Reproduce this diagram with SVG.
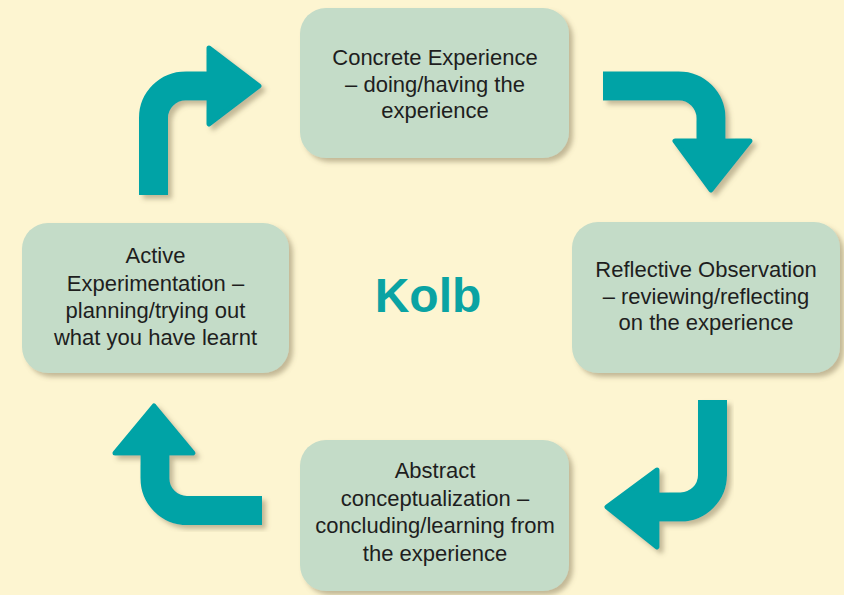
<svg xmlns="http://www.w3.org/2000/svg" width="844" height="595" viewBox="0 0 844 595">
<defs>
<filter id="sh" x="-20%" y="-20%" width="140%" height="140%">
<feDropShadow dx="4" dy="4" stdDeviation="2.5" flood-color="#7a7050" flood-opacity="0.45"/>
</filter>
</defs>
<style>
.box{fill:#C4DCC8;filter:url(#sh)}
.t{font-family:"Liberation Sans",Arial,sans-serif;font-size:22px;fill:#1e1e1e;text-anchor:middle}
.stem{fill:none;stroke:#00A3A6;stroke-width:29}
.head{fill:#00A3A6;stroke:#00A3A6;stroke-width:5;stroke-linejoin:round}
.arrow{filter:url(#sh)}
</style>
<rect width="844" height="595" fill="#FDF5D1"/>
<g id="connectors">
<g class="arrow">
<path class="stem" d="M153.5,195 V118 A32,32 0 0 1 185.5,86 H210"/>
<polygon class="head" points="209,48 259,86 209,124"/>
</g>
<g class="arrow">
<path class="stem" d="M603,86 H679 A32,32 0 0 1 711,118 V142"/>
<polygon class="head" points="675,141 750,141 711,190"/>
</g>
<g class="arrow">
<path class="stem" d="M712.5,400 V475 A32,32 0 0 1 680.5,507 H657"/>
<polygon class="head" points="657,470 607,507 657,547"/>
</g>
<g class="arrow">
<path class="stem" d="M262,510.5 H187 A32,32 0 0 1 155,478.5 V452"/>
<polygon class="head" points="115,453 154,406 193,453"/>
</g>
</g>
<g id="concrete">
<rect class="box" x="300" y="8" width="269" height="150" rx="26"/>
<text class="t" x="435" y="65">Concrete Experience</text>
<text class="t" x="435" y="91.5">– doing/having the</text>
<text class="t" x="435" y="118">experience</text>
</g>
<g id="reflective">
<rect class="box" x="572" y="222" width="268" height="151" rx="26"/>
<text class="t" x="706" y="277">Reflective Observation</text>
<text class="t" x="706" y="303.5">– reviewing/reflecting</text>
<text class="t" x="706" y="330">on the experience</text>
</g>
<g id="abstract">
<rect class="box" x="300" y="440" width="269" height="151" rx="26"/>
<text class="t" x="435" y="478">Abstract</text>
<text class="t" x="435" y="506">conceptualization –</text>
<text class="t" x="435" y="533">concluding/learning from</text>
<text class="t" x="435" y="561">the experience</text>
</g>
<g id="active">
<rect class="box" x="22" y="223" width="267" height="150" rx="26"/>
<text class="t" x="155.5" y="263">Active</text>
<text class="t" x="155.5" y="291">Experimentation –</text>
<text class="t" x="155.5" y="318">planning/trying out</text>
<text class="t" x="155.5" y="345">what you have learnt</text>
</g>
<g id="kolb">
<text x="428" y="312" font-family="Liberation Sans,Arial,sans-serif" font-weight="bold" font-size="48" fill="#0AA3A3" text-anchor="middle">Kolb</text>
</g>
</svg>
